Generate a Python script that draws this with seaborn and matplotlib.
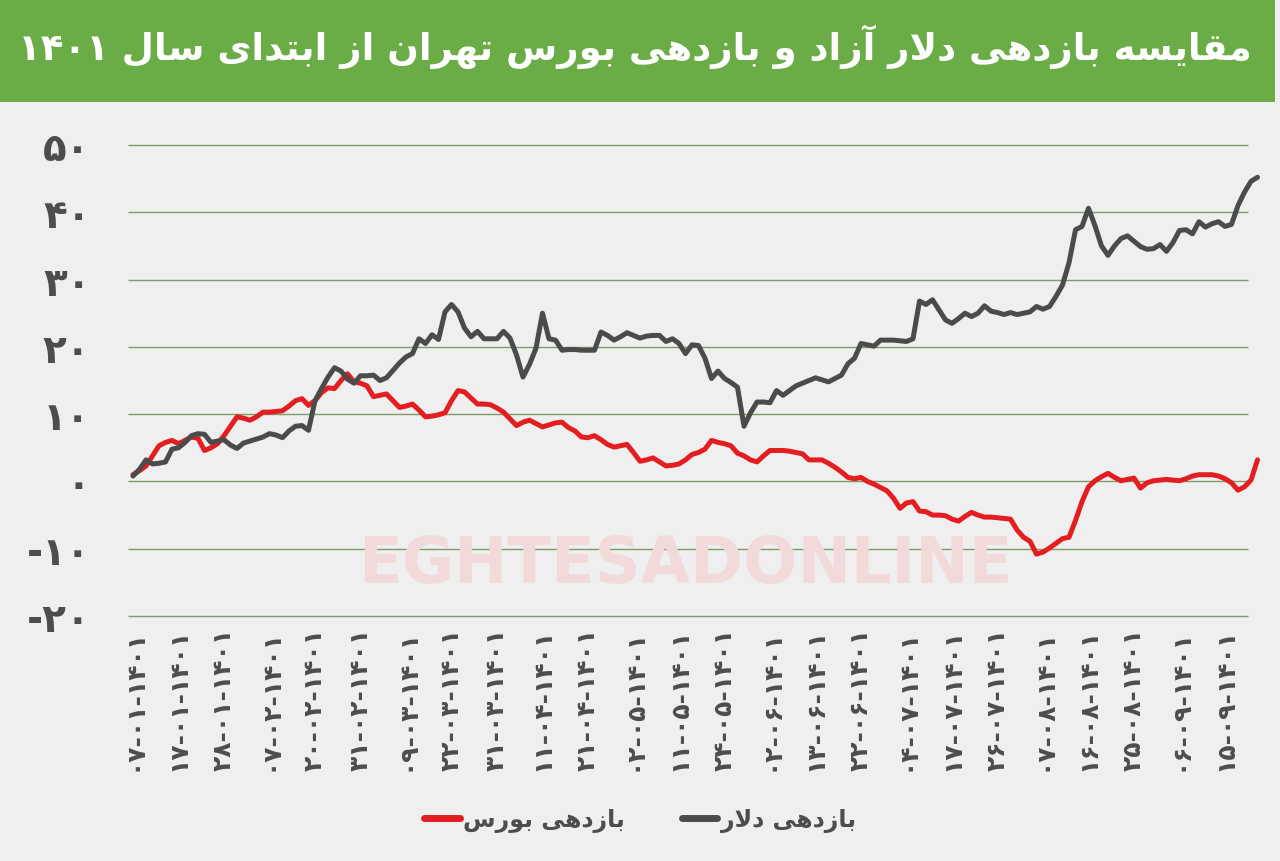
import matplotlib
matplotlib.use("Agg")
import matplotlib.pyplot as plt
from matplotlib.patches import Rectangle
from matplotlib.lines import Line2D
import numpy as np
import pandas as pd
import seaborn as sns

# ---------------- data ----------------
dollar = [0.8, 1.8, 3.2, 2.6, 2.7, 2.9, 4.8, 5.0, 5.8, 6.8,
          7.1, 7.0, 5.8, 6.0, 6.2, 5.4, 4.9, 5.7, 6.0, 6.3,
          6.6, 7.1, 6.9, 6.5, 7.5, 8.2, 8.3, 7.6, 12.0, 13.8,
          15.5, 16.9, 16.4, 15.2, 14.6, 15.7, 15.7, 15.8, 15.0, 15.4,
          16.5, 17.6, 18.5, 19.0, 21.2, 20.5, 21.8, 21.1, 25.2, 26.3,
          25.2, 22.8, 21.5, 22.3, 21.2, 21.2, 21.2, 22.3, 21.3, 18.8,
          15.5, 17.4, 19.8, 25.0, 21.2, 21.0, 19.5, 19.6, 19.6, 19.5,
          19.5, 19.5, 22.2, 21.7, 21.0, 21.5, 22.1, 21.7, 21.3, 21.6,
          21.7, 21.7, 20.8, 21.2, 20.5, 19.0, 20.3, 20.2, 18.3, 15.3,
          16.4, 15.3, 14.7, 14.0, 8.2, 10.2, 11.8, 11.8, 11.7, 13.5,
          12.8, 13.5, 14.2, 14.6, 15.0, 15.4, 15.1, 14.8, 15.3, 15.8,
          17.5, 18.3, 20.5, 20.3, 20.1, 21.0, 21.0, 21.0, 20.9, 20.8,
          21.2, 26.8, 26.3, 27.0, 25.5, 24.0, 23.5, 24.2, 25.0, 24.5,
          25.0, 26.1, 25.3, 25.1, 24.8, 25.1, 24.8, 25.0, 25.2, 26.0,
          25.6, 26.0, 27.5, 29.2, 32.5, 37.4, 37.9, 40.6, 38.0, 35.0,
          33.6, 35.0, 36.1, 36.5, 35.7, 34.9, 34.5, 34.6, 35.2, 34.2,
          35.5, 37.3, 37.4, 36.8, 38.6, 37.8, 38.3, 38.6, 37.9, 38.2,
          41.0, 43.0, 44.6, 45.2]

bourse = [1.0, 1.6, 2.3, 3.8, 5.3, 5.8, 6.1, 5.6, 6.1, 6.6,
          6.4, 4.6, 5.0, 5.6, 6.8, 8.2, 9.6, 9.4, 9.1, 9.6,
          10.3, 10.3, 10.4, 10.5, 11.2, 12.0, 12.3, 11.3, 12.0, 13.2,
          13.9, 13.8, 15.0, 16.0, 14.8, 14.6, 14.2, 12.6, 12.8, 13.0,
          12.0, 11.0, 11.2, 11.5, 10.6, 9.6, 9.7, 9.9, 10.2, 12.0,
          13.5, 13.3, 12.4, 11.5, 11.5, 11.4, 10.9, 10.3, 9.3, 8.3,
          8.8, 9.1, 8.6, 8.1, 8.4, 8.7, 8.8, 8.0, 7.5, 6.6,
          6.5, 6.8, 6.2, 5.5, 5.1, 5.3, 5.5, 4.3, 3.0, 3.2,
          3.5, 2.9, 2.3, 2.4, 2.6, 3.2, 4.0, 4.3, 4.8, 6.1,
          5.8, 5.6, 5.3, 4.2, 3.8, 3.2, 2.9, 3.8, 4.6, 4.6,
          4.6, 4.5, 4.3, 4.1, 3.2, 3.2, 3.2, 2.7, 2.1, 1.4,
          0.6, 0.4, 0.6, 0.0, -0.4, -0.9, -1.4, -2.5, -4.0, -3.2,
          -3.0, -4.4, -4.5, -5.0, -5.0, -5.1, -5.6, -5.9, -5.2, -4.6,
          -5.0, -5.3, -5.3, -5.4, -5.5, -5.6, -7.2, -8.3, -8.9, -10.8,
          -10.5, -9.9, -9.2, -8.5, -8.3, -5.8, -3.0, -0.8, 0.1, 0.7,
          1.2, 0.6, 0.1, 0.3, 0.5, -1.0, -0.2, 0.1, 0.2, 0.3,
          0.2, 0.1, 0.4, 0.8, 1.0, 1.0, 1.0, 0.8, 0.4, -0.2,
          -1.3, -0.8, 0.2, 3.2]

tick_dates = ["07-01-1401", "17-01-1401", "28-01-1401", "07-02-1401", "20-02-1401",
              "31-02-1401", "09-03-1401", "22-03-1401", "31-03-1401", "11-04-1401",
              "21-04-1401", "02-05-1401", "11-05-1401", "24-05-1401", "02-06-1401",
              "13-06-1401", "22-06-1401", "04-07-1401", "17-07-1401", "26-07-1401",
              "07-08-1401", "16-08-1401", "25-08-1401", "06-09-1401", "15-09-1401"]
tick_step = 7
y_ticks = [-20, -10, 0, 10, 20, 30, 40, 50]

title_text = "مقایسه بازدهی دلار آزاد و بازدهی بورس تهران از ابتدای سال ۱۴۰۱"
name_bourse = "بازدهی بورس"
name_dollar = "بازدهی دلار"

# ---------------- minimal Persian shaping ----------------
FORMS = {
    'ا': ('\uFE8D', '\uFE8E', None, None),
    'آ': ('\uFE81', '\uFE82', None, None),
    'ب': ('\uFE8F', '\uFE90', '\uFE91', '\uFE92'),
    'ت': ('\uFE95', '\uFE96', '\uFE97', '\uFE98'),
    'د': ('\uFEA9', '\uFEAA', None, None),
    'ر': ('\uFEAD', '\uFEAE', None, None),
    'ز': ('\uFEAF', '\uFEB0', None, None),
    'س': ('\uFEB1', '\uFEB2', '\uFEB3', '\uFEB4'),
    'ق': ('\uFED5', '\uFED6', '\uFED7', '\uFED8'),
    'ل': ('\uFEDD', '\uFEDE', '\uFEDF', '\uFEE0'),
    'م': ('\uFEE1', '\uFEE2', '\uFEE3', '\uFEE4'),
    'ن': ('\uFEE5', '\uFEE6', '\uFEE7', '\uFEE8'),
    'ه': ('\uFEE9', '\uFEEA', '\uFEEB', '\uFEEC'),
    'و': ('\uFEED', '\uFEEE', None, None),
    'ی': ('\uFEEF', '\uFEF0', '\uFEF3', '\uFEF4'),
}
LAM_ALEF = {'ا': ('\uFEFB', '\uFEFC'), 'آ': ('\uFEF5', '\uFEF6')}


def shape_word(w):
    units = []
    i = 0
    while i < len(w):
        c = w[i]
        if c == 'ل' and i + 1 < len(w) and w[i + 1] in LAM_ALEF:
            iso, fin = LAM_ALEF[w[i + 1]]
            units.append((iso, fin, None, None))
            i += 2
        else:
            units.append(FORMS.get(c, (c, c, None, None)))
            i += 1
    out = []
    for k, u in enumerate(units):
        pj = k > 0 and units[k - 1][2] is not None
        nj = k + 1 < len(units) and u[2] is not None
        if pj and nj:
            out.append(u[3])
        elif pj:
            out.append(u[1])
        elif nj:
            out.append(u[2])
        else:
            out.append(u[0])
    return ''.join(out)


def visual(s):
    toks = s.split(' ')
    res = []
    for t in reversed(toks):
        if any(ch in FORMS for ch in t):
            res.append(shape_word(t)[::-1])
        else:
            res.append(t)
    return ' '.join(res)


PD = str.maketrans("0123456789", "۰۱۲۳۴۵۶۷۸۹")


def fa(s):
    return str(s).translate(PD)


# ---------------- figure ----------------
sns.set_style("white")
plt.rcParams['font.family'] = ['DejaVu Sans']

BG = "#efefef"
GREEN = "#6aac46"
GRAY = "#4b4b4b"
RED = "#e41e20"
TXT = "#4d4d4d"

W, H = 1280, 862
fig = plt.figure(figsize=(W / 100, H / 100), dpi=100, facecolor=BG)

# title bar
fig.patches.append(Rectangle((0, 1 - 103 / H), 1275 / W, 103 / H,
                             transform=fig.transFigure, facecolor=GREEN,
                             edgecolor='none', zorder=0))
fig.text(1252 / W, 1 - 47 / H, visual(title_text), color='white',
         fontsize=26.7, fontweight='bold', ha='right', va='center')

# axes placement
x0px, step_px = 133, 6.5
ax_left, ax_right = 128, 1262
y50, y_20 = 146, 617
ppu = (y_20 - y50) / 70.0
ax_top = 132
ax_bot = 624
ax = fig.add_axes([ax_left / W, 1 - ax_bot / H, (ax_right - ax_left) / W, (ax_bot - ax_top) / H])
ax.set_facecolor('none')

xmin = (ax_left - x0px) / step_px
xmax = (ax_right - x0px) / step_px
ymax = 50 + (y50 - ax_top) / ppu
ymin = -20 - (ax_bot - y_20) / ppu

# watermark
fig.text(685 / W, 1 - 565 / H, "EGHTESADONLINE", color="#f3dada",
         fontsize=46, fontweight='bold', ha='center', va='center', zorder=0.5)

n = len(dollar)
df = pd.DataFrame({
    'idx': list(range(n)) * 2,
    'value': bourse + dollar,
    'series': ['bourse'] * n + ['dollar'] * n,
})

# gridlines
grid_end = (1248 - x0px) / step_px
ax.hlines(y_ticks, xmin, grid_end, colors="#7d9a68", linewidth=1.0, zorder=1)

sns.lineplot(data=df, x='idx', y='value', hue='series',
             palette={'bourse': RED, 'dollar': GRAY}, linewidth=3.6,
             ax=ax, legend=False, zorder=3)
for ln in ax.get_lines():
    ln.set_solid_capstyle('round')
    ln.set_solid_joinstyle('round')

ax.set_xlim(xmin, xmax)
ax.set_ylim(ymin, ymax)

ax.set_yticks(y_ticks)
ax.set_yticklabels([fa(v) for v in y_ticks], fontsize=28, fontweight='bold', color=TXT)
ax.set_xticks(list(range(0, tick_step * len(tick_dates), tick_step)))
ax.set_xticklabels([fa(d) for d in tick_dates], rotation=90, fontsize=18,
                   fontweight='bold', color=TXT)
ax.tick_params(axis='y', length=0, pad=27)
ax.tick_params(axis='x', length=0, pad=3)
ax.set_xlabel('')
ax.set_ylabel('')
for s in ax.spines.values():
    s.set_visible(False)
ax.grid(False)

handles = [Line2D([0], [0], color=RED, lw=5),
           Line2D([0], [0], color=GRAY, lw=5)]
fig.legend(handles, [visual(name_bourse), visual(name_dollar)],
           loc='center', bbox_to_anchor=(640 / W, 1 - 821 / H), ncol=2,
           frameon=False, handlelength=1.5, handletextpad=0.15,
           columnspacing=2.4, prop={'size': 17, 'weight': 'bold'},
           labelcolor=TXT)

fig.savefig("out.png", dpi=100, facecolor=BG)
